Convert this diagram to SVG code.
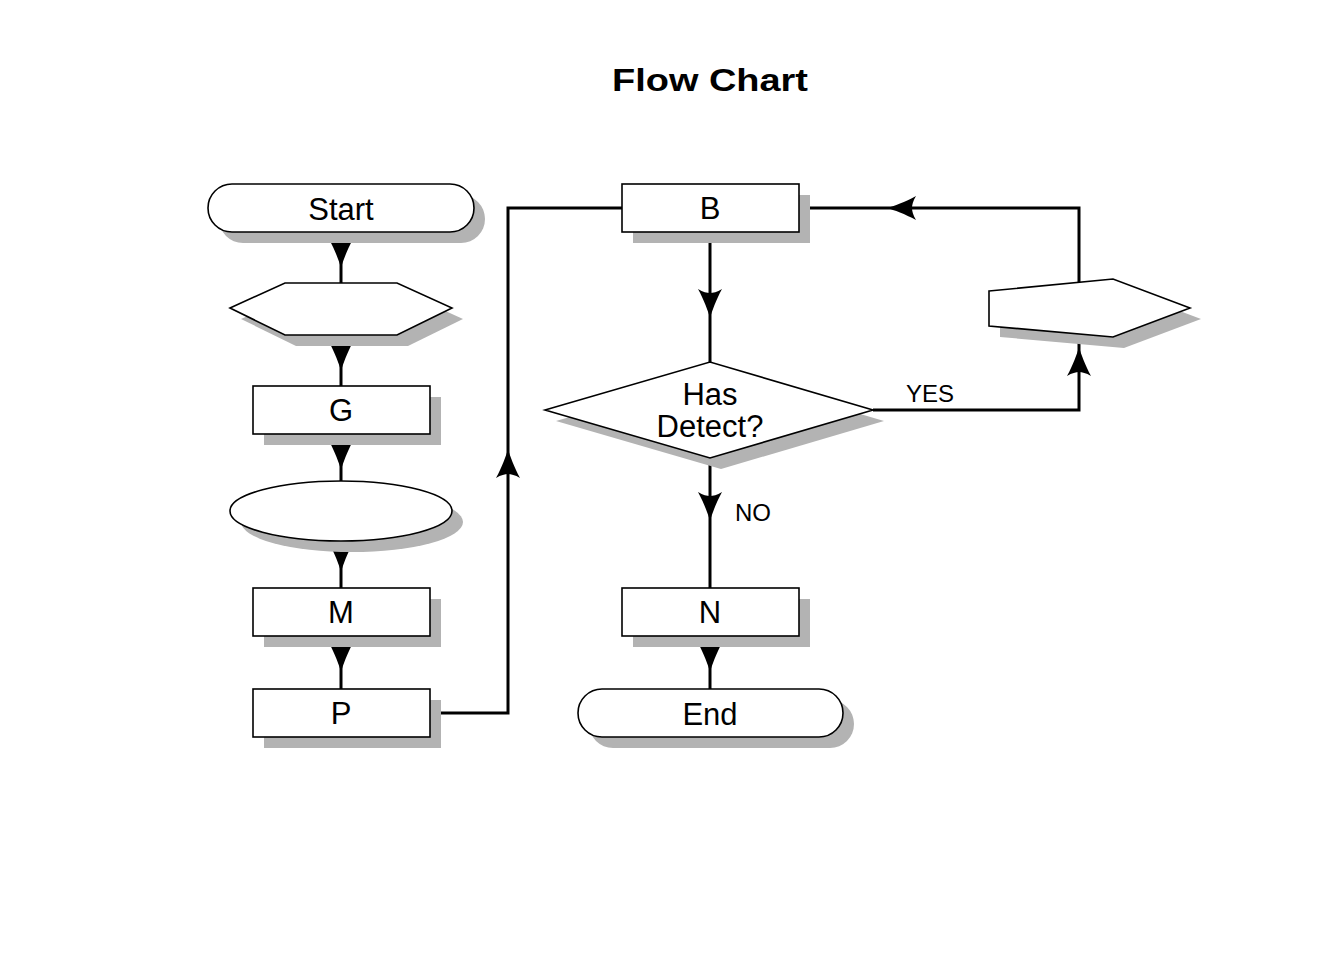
<svg xmlns="http://www.w3.org/2000/svg" xmlns:xlink="http://www.w3.org/1999/xlink" width="1344" height="960" viewBox="0 0 1344 960">
<style>
.shadow{fill:#b3b3b3;stroke:none}
.node{fill:#ffffff;stroke:#000000;stroke-width:1.6}
.conn{fill:none;stroke:#000000;stroke-width:3}
.arrow{fill:#000000;stroke:none}
.label{font-family:"Liberation Sans",Arial,sans-serif;font-size:31px;fill:#000000;text-anchor:middle}
.small{font-family:"Liberation Sans",Arial,sans-serif;font-size:24px;fill:#000000}
.title{font-family:"Liberation Sans",Arial,sans-serif;font-size:32px;font-weight:bold;fill:#000000;text-anchor:middle}
</style>
<defs>
<path id="ah" d="M0,0 C-2,-7 -6,-18 -12,-29 C-7,-26 -3,-25 0,-25 C3,-25 7,-26 12,-29 C6,-18 2,-7 0,0 Z"/>
</defs>
<rect x="0" y="0" width="1344" height="960" fill="#ffffff"/>
<text class="title" x="710" y="91" textLength="196" lengthAdjust="spacingAndGlyphs">Flow Chart</text>

<g id="connectors">
<path class="conn" d="M341,232 V283"/>
<path class="conn" d="M341,335 V386"/>
<path class="conn" d="M341,434 V481"/>
<path class="conn" d="M341,540 V588"/>
<path class="conn" d="M341,636 V689"/>
<path class="conn" d="M430,713 H508 V208 H622"/>
<path class="conn" d="M710,232 V362"/>
<path class="conn" d="M710,458 V588"/>
<path class="conn" d="M710,636 V689"/>
<path class="conn" d="M873,410 H1079 V334"/>
<path class="conn" d="M1079,282 V208 H799"/>
<use href="#ah" class="arrow" transform="translate(341,268)"/>
<use href="#ah" class="arrow" transform="translate(341,371)"/>
<use href="#ah" class="arrow" transform="translate(341,470)"/>
<use href="#ah" class="arrow" transform="translate(341,572)"/>
<use href="#ah" class="arrow" transform="translate(341,672)"/>
<use href="#ah" class="arrow" transform="translate(710,672)"/>
<use href="#ah" class="arrow" transform="translate(710,318)"/>
<use href="#ah" class="arrow" transform="translate(710,521)"/>
<use href="#ah" class="arrow" transform="translate(508,449) rotate(180)"/>
<use href="#ah" class="arrow" transform="translate(1079,347) rotate(180)"/>
<use href="#ah" class="arrow" transform="translate(887,208) rotate(90)"/>
<text class="small" x="906" y="402">YES</text>
<text class="small" x="735" y="521">NO</text>
</g>

<g id="start">
<rect class="shadow" x="219" y="195" width="266" height="48" rx="24" ry="24"/>
<rect class="node" x="208" y="184" width="266" height="48" rx="24" ry="24"/>
<text class="label" x="341" y="220">Start</text>
</g>
<g id="hexagon">
<polygon class="shadow" points="241,319 296,294 408,294 463,319 408,346 296,346"/>
<polygon class="node" points="230,308 285,283 397,283 452,308 397,335 285,335"/>
</g>
<g id="g">
<rect class="shadow" x="264" y="397" width="177" height="48"/>
<rect class="node" x="253" y="386" width="177" height="48"/>
<text class="label" x="341" y="421">G</text>
</g>
<g id="ellipse">
<ellipse class="shadow" cx="352" cy="522" rx="111" ry="30"/>
<ellipse class="node" cx="341" cy="511" rx="111" ry="30"/>
</g>
<g id="m">
<rect class="shadow" x="264" y="599" width="177" height="48"/>
<rect class="node" x="253" y="588" width="177" height="48"/>
<text class="label" x="341" y="623">M</text>
</g>
<g id="p">
<rect class="shadow" x="264" y="700" width="177" height="48"/>
<rect class="node" x="253" y="689" width="177" height="48"/>
<text class="label" x="341" y="724">P</text>
</g>
<g id="b">
<rect class="shadow" x="633" y="195" width="177" height="48"/>
<rect class="node" x="622" y="184" width="177" height="48"/>
<text class="label" x="710" y="219">B</text>
</g>
<g id="decision">
<polygon class="shadow" points="556,421 721,373 884,421 721,469"/>
<polygon class="node" points="545,410 710,362 873,410 710,458"/>
<text class="label" x="710" y="405">Has</text>
<text class="label" x="710" y="437">Detect?</text>
</g>
<g id="pentagon">
<polygon class="shadow" points="1000,302 1124,290 1201,319 1124,348 1000,337"/>
<polygon class="node" points="989,291 1113,279 1190,308 1113,337 989,326"/>
</g>
<g id="n">
<rect class="shadow" x="633" y="599" width="177" height="48"/>
<rect class="node" x="622" y="588" width="177" height="48"/>
<text class="label" x="710" y="623">N</text>
</g>
<g id="end">
<rect class="shadow" x="589" y="700" width="265" height="48" rx="24" ry="24"/>
<rect class="node" x="578" y="689" width="265" height="48" rx="24" ry="24"/>
<text class="label" x="710" y="725">End</text>
</g>
</svg>
